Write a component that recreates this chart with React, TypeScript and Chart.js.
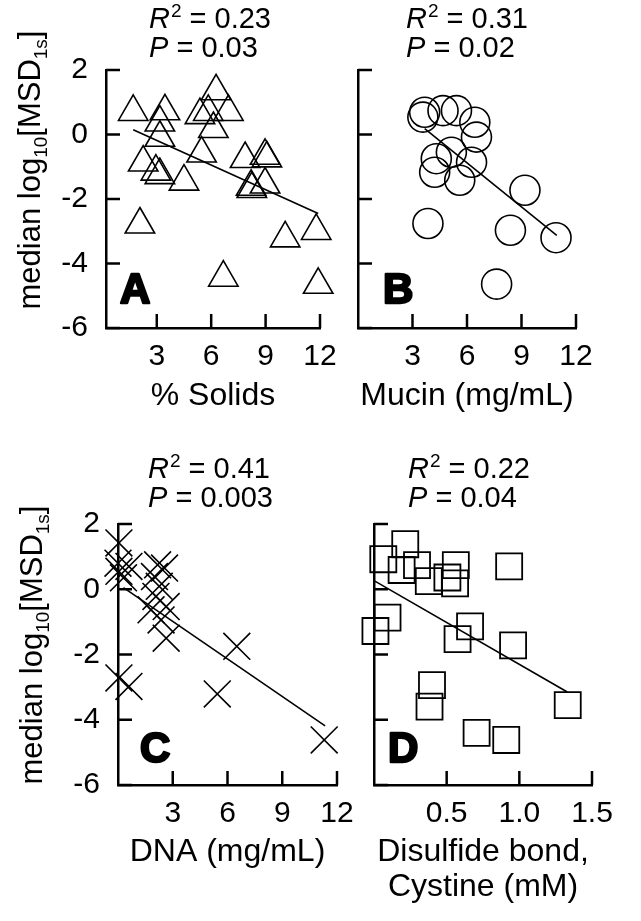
import React, { useEffect, useRef } from 'react';
import { Chart, registerables } from 'chart.js';

Chart.register(...registerables);

const PAGE_W = 641;
const PAGE_H = 921;
const FONT = '"Liberation Sans", Arial, Helvetica, sans-serif';

// ---------- data ----------
const yTickValues = [-6, -4, -2, 0, 2];
const concTickValues = [3, 6, 9, 12];
const cystineTickValues = [0.5, 1.0, 1.5];

// Panel A: % solids
const solidsX = [1.7, 3.45, 3.17, 3.17, 6.27, 5.38, 5.84, 6.95, 6.12, 5.47, 2.25, 2.95, 3.17, 4.5, 7.87, 8.97, 9.07, 8.24, 8.2, 8.97, 2.07, 10.08, 11.79, 6.67, 11.9];
const solidsY = [0.7, 0.72, 0.37, -0.1, 1.34, 0.6, 0.7, 0.7, 0.17, -0.59, -0.87, -1.15, -1.26, -1.46, -0.76, -0.66, -0.74, -1.69, -1.62, -1.55, -2.79, -3.22, -2.99, -4.44, -4.66];
const solidsFitX = [1.7, 11.9];
const solidsFitY = [0.15, -2.45];

// Panel B: mucin
const mucinX = [3.67, 3.57, 4.68, 5.42, 6.43, 6.52, 5.14, 4.31, 4.22, 6.25, 5.6, 9.19, 3.85, 8.39, 10.9, 7.63];
const mucinY = [0.69, 0.54, 0.74, 0.74, 0.38, -0.08, -0.55, -0.75, -1.17, -0.86, -1.42, -1.73, -2.76, -2.97, -3.2, -4.64];
const mucinFitX = [3.67, 10.94];
const mucinFitY = [0.18, -3.13];

// Panel C: DNA
const dnaX = [0.05, 0.0, 0.05, 0.6, 0.3, 2.17, 2.55, 2.0, 2.26, 2.08, 1.81, 2.64, 2.36, 2.64, 6.51, 0.05, 0.6, 5.44, 11.3];
const dnaY = [1.42, 0.8, 0.55, 0.7, 0.35, 0.75, 0.65, 0.39, 0.09, -0.22, -0.63, -0.53, -0.94, -1.5, -1.75, -2.72, -2.98, -3.21, -4.62];
const dnaFitX = [0.3, 11.35];
const dnaFitY = [0.05, -4.19];

// Panel D: disulfide bond, cystine
const cysX = [0.215, 0.064, 0.19, 0.296, 0.377, 0.505, 0.563, 0.558, 0.93, 0.661, 0.575, 0.957, 1.333, 0.399, 0.382, 0.706, 0.91, 0.093, 0.01];
const cysY = [1.38, 0.92, 0.59, 0.74, 0.25, 0.36, 0.74, 0.18, 0.7, -1.14, -1.53, -1.72, -3.55, -2.94, -3.6, -4.4, -4.62, -0.87, -1.28];
const cysFitX = [0.006, 1.33];
const cysFitY = [0.25, -3.15];

const statsR2 = ['0.23', '0.31', '0.41', '0.22'];
const statsP = ['0.03', '0.02', '0.003', '0.04'];
const panelLetters = ['A', 'B', 'C', 'D'];
const xTitles = [['% Solids'], ['Mucin (mg/mL)'], ['DNA (mg/mL)'], ['Disulfide bond,', 'Cystine (mM)']];

// ---------- layout ----------
const panels = [
  { area: { l: 106, t: 70, r: 320, b: 328 }, xMin: 0.2, xMax: 12, xTicks: concTickValues, yLabels: true,
    xs: solidsX, ys: solidsY, fx: solidsFitX, fy: solidsFitY, style: 'triangle', radius: 17, bw: 1.6,
    letterPos: [120, 303], annPos: [149, 28, 57], titleBase: 405, yTitleX: 40, yTitleC: 170, decimals: 0 },
  { area: { l: 358, t: 70, r: 576, b: 328 }, xMin: 0, xMax: 12, xTicks: concTickValues, yLabels: false,
    xs: mucinX, ys: mucinY, fx: mucinFitX, fy: mucinFitY, style: 'circle', radius: 15, bw: 1.6,
    letterPos: [383, 303], annPos: [406, 28, 57], titleBase: 405, yTitleX: 0, yTitleC: 0, decimals: 0 },
  { area: { l: 118, t: 524, r: 337, b: 785 }, xMin: 0, xMax: 12, xTicks: concTickValues, yLabels: true,
    xs: dnaX, ys: dnaY, fx: dnaFitX, fy: dnaFitY, style: 'crossRot', radius: 19, bw: 1.6,
    letterPos: [140, 762], annPos: [148, 478, 507], titleBase: 861, yTitleX: 42, yTitleC: 645, decimals: 0 },
  { area: { l: 374, t: 524, r: 592, b: 785 }, xMin: 0, xMax: 1.5, xTicks: cystineTickValues, yLabels: false,
    xs: cysX, ys: cysY, fx: cysFitX, fy: cysFitY, style: 'rect', radius: 18.4, bw: 1.8,
    letterPos: [388, 762], annPos: [408, 478, 507], titleBase: 861, yTitleX: 0, yTitleC: 0, decimals: 1 },
];

const TICK_LEN = 14;
const AXIS_W = 2.5;
const YAXIS_BOX = 60;
const XAXIS_BOX = 60;

function drawYTitle(ctx: CanvasRenderingContext2D, x: number, cy: number) {
  const big = `31px ${FONT}`;
  const small = `19px ${FONT}`;
  const parts: [string, string, number][] = [
    ['median log', big, 0],
    ['10', small, 7],
    ['[MSD', big, 0],
    ['1s', small, 7],
    [']', big, 0],
  ];
  let total = 0;
  for (const [t, f] of parts) { ctx.font = f; total += ctx.measureText(t).width; }
  ctx.save();
  ctx.translate(x, cy);
  ctx.rotate(-Math.PI / 2);
  ctx.textAlign = 'left';
  ctx.textBaseline = 'alphabetic';
  ctx.fillStyle = '#000';
  let pos = -total / 2;
  for (const [t, f, dy] of parts) {
    ctx.font = f;
    ctx.fillText(t, pos, dy);
    pos += ctx.measureText(t).width;
  }
  ctx.restore();
}

function drawStat(ctx: CanvasRenderingContext2D, x: number, y: number, label: string, sup: string | null, value: string) {
  ctx.textAlign = 'left';
  ctx.textBaseline = 'alphabetic';
  ctx.fillStyle = '#000';
  let pos = x;
  ctx.font = `italic 29px ${FONT}`;
  ctx.fillText(label, pos, y);
  pos += ctx.measureText(label).width;
  if (sup) {
    ctx.font = `19px ${FONT}`;
    ctx.fillText(sup, pos + 1, y - 11);
    pos += ctx.measureText(sup).width + 1;
  }
  ctx.font = `29px ${FONT}`;
  const rest = ' = ' + value;
  ctx.fillText(rest, pos, y);
}

function makeDecor(i: number) {
  const p = panels[i];
  return {
    id: 'panelDecor' + i,
    afterDraw(chart: any) {
      const ctx: CanvasRenderingContext2D = chart.ctx;
      const xs = chart.scales.x;
      const ys = chart.scales.y;
      const a = chart.chartArea;
      ctx.save();
      ctx.strokeStyle = '#000';
      ctx.lineWidth = AXIS_W;
      for (const v of p.xTicks) {
        const px = xs.getPixelForValue(v);
        ctx.beginPath();
        ctx.moveTo(px, a.bottom);
        ctx.lineTo(px, a.bottom - TICK_LEN);
        ctx.stroke();
      }
      for (const v of yTickValues) {
        const py = ys.getPixelForValue(v);
        ctx.beginPath();
        ctx.moveTo(a.left, py);
        ctx.lineTo(a.left + TICK_LEN, py);
        ctx.stroke();
      }
      ctx.font = `bold 42px ${FONT}`;
      ctx.textAlign = 'left';
      ctx.textBaseline = 'alphabetic';
      ctx.fillStyle = '#000';
      ctx.lineWidth = 2.4;
      ctx.lineJoin = 'round';
      ctx.strokeText(panelLetters[i], p.letterPos[0], p.letterPos[1]);
      ctx.fillText(panelLetters[i], p.letterPos[0], p.letterPos[1]);
      drawStat(ctx, p.annPos[0], p.annPos[1], 'R', '2', statsR2[i]);
      drawStat(ctx, p.annPos[0], p.annPos[2], 'P', null, statsP[i]);
      ctx.font = `32px ${FONT}`;
      ctx.textAlign = 'center';
      const cx = (a.left + a.right) / 2;
      xTitles[i].forEach((line, k) => {
        ctx.fillText(line, cx, p.titleBase + k * 35);
      });
      if (p.yTitleX) drawYTitle(ctx, p.yTitleX, p.yTitleC);
      ctx.restore();
    },
  };
}

function PanelChart({ index }: { index: number }) {
  const ref = useRef<HTMLCanvasElement | null>(null);
  useEffect(() => {
    const p = panels[index];
    const canvas = ref.current!;
    const tickFont = { family: FONT, size: 30 };
    const chart = new Chart(canvas, {
      type: 'scatter',
      data: {
        datasets: [
          {
            data: p.xs.map((x, k) => ({ x, y: p.ys[k] })),
            pointStyle: p.style as any,
            pointRadius: p.radius,
            pointBorderWidth: p.bw,
            borderColor: '#000',
            backgroundColor: 'rgba(0,0,0,0)',
            pointBackgroundColor: 'rgba(0,0,0,0)',
            pointBorderColor: '#000',
            clip: false as any,
          },
          {
            data: p.fx.map((x, k) => ({ x, y: p.fy[k] })),
            showLine: true,
            pointRadius: 0,
            borderColor: '#000',
            borderWidth: 1.6,
            fill: false,
            clip: false as any,
          },
        ],
      },
      options: {
        responsive: false,
        maintainAspectRatio: false,
        animation: false,
        devicePixelRatio: 1,
        events: [],
        layout: {
          padding: {
            left: p.area.l - YAXIS_BOX,
            top: p.area.t,
            right: PAGE_W - p.area.r,
            bottom: PAGE_H - p.area.b - XAXIS_BOX,
          },
        },
        plugins: { legend: { display: false }, tooltip: { enabled: false } },
        scales: {
          x: {
            type: 'linear',
            min: p.xMin,
            max: p.xMax,
            afterFit: (s: any) => { s.height = XAXIS_BOX; },
            afterBuildTicks: (s: any) => { s.ticks = p.xTicks.map((v) => ({ value: v })); },
            grid: { display: false, drawTicks: false },
            border: { display: true, color: '#000', width: AXIS_W },
            ticks: {
              font: tickFont, color: '#000', padding: 11, maxRotation: 0, autoSkip: false,
              callback: (v: any) => Number(v).toFixed(p.decimals),
            },
          },
          y: {
            type: 'linear',
            min: -6,
            max: 2,
            afterFit: (s: any) => { s.width = YAXIS_BOX; },
            afterBuildTicks: (s: any) => { s.ticks = yTickValues.map((v) => ({ value: v })); },
            grid: { display: false, drawTicks: false },
            border: { display: true, color: '#000', width: AXIS_W },
            ticks: {
              display: p.yLabels, font: tickFont, color: '#000', padding: 18, autoSkip: false,
              callback: (v: any) => String(v),
            },
          },
        },
      },
      plugins: [makeDecor(index)],
    });
    return () => chart.destroy();
  }, [index]);
  return (
    <canvas
      ref={ref}
      width={PAGE_W}
      height={PAGE_H}
      style={{ position: 'absolute', left: 0, top: 0, width: PAGE_W, height: PAGE_H }}
    />
  );
}

export default function App() {
  return (
    <div style={{ position: 'fixed', left: 0, top: 0, width: PAGE_W, height: PAGE_H, background: '#fff' }}>
      {panels.map((_, i) => (
        <PanelChart key={i} index={i} />
      ))}
    </div>
  );
}
